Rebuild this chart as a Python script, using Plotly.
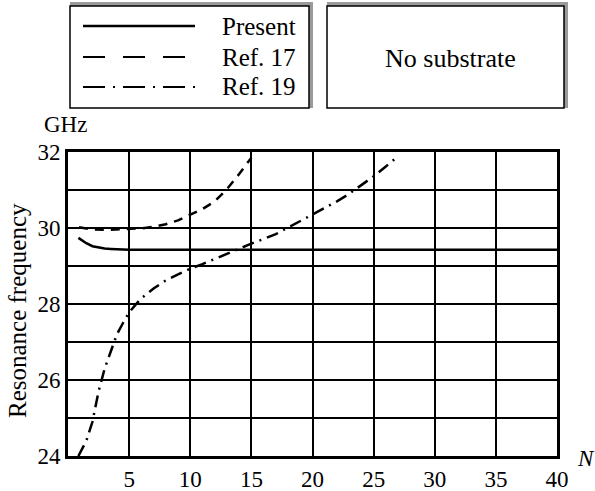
import plotly.graph_objects as go

# ---- data ----
present_n = [0.85, 1.5, 2.0, 2.5, 3.0, 3.5, 4.0, 5.0, 7.0, 10.0, 15.0, 20.0, 25.0, 30.0, 35.0, 40.0]
present_f = [29.74, 29.6, 29.52, 29.48, 29.46, 29.45, 29.44, 29.43, 29.43, 29.43, 29.43, 29.43, 29.43, 29.43, 29.43, 29.43]

ref17_n = [0.9, 2, 3, 4, 5, 6, 7, 8, 9, 10, 11, 12, 13, 14, 15]
ref17_f = [30.02, 29.96, 29.95, 29.96, 29.97, 29.99, 30.03, 30.1, 30.2, 30.36, 30.5, 30.7, 31.02, 31.42, 31.85]

ref19_n = [0.85, 1.5, 2, 2.5, 3, 3.5, 4, 4.5, 5, 5.5, 6, 7, 8, 9, 10, 11, 12, 13, 14, 15,
           16, 17, 18, 19, 20, 21, 22, 23, 24, 25, 26, 26.9]
ref19_f = [24.0, 24.4, 24.9, 25.7, 26.3, 26.75, 27.2, 27.5, 27.78, 27.97, 28.15, 28.41, 28.62,
           28.78, 28.93, 29.05, 29.19, 29.33, 29.46, 29.59, 29.71, 29.84, 30.01, 30.18, 30.36,
           30.52, 30.7, 30.9, 31.13, 31.36, 31.62, 31.86]

x_ticks = [5, 10, 15, 20, 25, 30, 35, 40]
y_ticks = [24, 25, 26, 27, 28, 29, 30, 31, 32]
y_ticktext = ["24", "", "26", "", "28", "", "30", "", "32"]

series_names = ["Present", "Ref. 17", "Ref. 19"]

# ---- geometry helpers (pixels -> paper) ----
W, H = 595, 491
L, R, T, B = 68, 38, 152, 35
PW, PH = W - L - R, H - T - B


def px(x):
    return (x - L) / PW


def py(y):
    return (H - B - y) / PH


FONT = "Liberation Serif"
SOLID = "solid"
DASH = "9px,7px"
DASHDOT = "12px,6px,2px,6px"

fig = go.Figure()
fig.add_trace(go.Scatter(x=present_n, y=present_f, mode="lines", name=series_names[0],
                         line=dict(color="black", width=2.5, dash=SOLID)))
fig.add_trace(go.Scatter(x=ref17_n, y=ref17_f, mode="lines", name=series_names[1],
                         line=dict(color="black", width=2.5, dash=DASH)))
fig.add_trace(go.Scatter(x=ref19_n, y=ref19_f, mode="lines", name=series_names[2],
                         line=dict(color="black", width=2.5, dash=DASHDOT)))

shapes = []
annotations = []

# boxes with shaded top/right edge
for (x0, x1) in [(70, 309), (327, 564)]:
    y0, y1 = 6, 108
    shapes.append(dict(type="rect", xref="paper", yref="paper",
                       x0=px(x0), x1=px(x1 + 4), y0=py(y1), y1=py(y0 - 4),
                       fillcolor="#9a9a9a", line=dict(width=0), layer="above"))
    shapes.append(dict(type="rect", xref="paper", yref="paper",
                       x0=px(x0), x1=px(x1), y0=py(y1), y1=py(y0),
                       fillcolor="white", line=dict(color="black", width=1.5), layer="above"))

# legend samples
leg_y = [26, 57, 87]
leg_dash = [SOLID, "22px,18px", "22px,8px,2px,8px"]
for i, name in enumerate(series_names):
    shapes.append(dict(type="line", xref="paper", yref="paper",
                       x0=px(83), x1=px(195), y0=py(leg_y[i]), y1=py(leg_y[i]),
                       line=dict(color="black", width=2.5 if i == 0 else 2, dash=leg_dash[i]),
                       layer="above"))
    annotations.append(dict(text=name, xref="paper", yref="paper", x=px(298), y=py(leg_y[i]),
                            xanchor="right", yanchor="middle", showarrow=False,
                            font=dict(family=FONT, size=25, color="black")))

annotations.append(dict(text="No substrate", xref="paper", yref="paper", x=px(450), y=py(58),
                        xanchor="center", yanchor="middle", showarrow=False,
                        font=dict(family=FONT, size=26, color="black")))
annotations.append(dict(text="GHz", xref="paper", yref="paper", x=px(65), y=py(125),
                        xanchor="center", yanchor="middle", showarrow=False,
                        font=dict(family=FONT, size=23, color="black")))
annotations.append(dict(text="<i>N</i>", xref="paper", yref="paper", x=px(586), y=py(458),
                        xanchor="center", yanchor="middle", showarrow=False,
                        font=dict(family=FONT, size=23, color="black")))
annotations.append(dict(text="Resonance frequency", xref="paper", yref="paper", x=px(17), y=py(311),
                        xanchor="center", yanchor="middle", showarrow=False, textangle=-90,
                        font=dict(family=FONT, size=25, color="black")))

fig.update_layout(
    width=W, height=H,
    margin=dict(l=L, r=R, t=T, b=B, pad=0, autoexpand=False),
    paper_bgcolor="white", plot_bgcolor="white",
    showlegend=False,
    shapes=shapes, annotations=annotations,
    font=dict(family=FONT, color="black"),
)
fig.update_xaxes(range=[0, 40], tickvals=x_ticks, ticks="", showgrid=True, gridcolor="black",
                 gridwidth=2, showline=True, linecolor="black", linewidth=3, mirror=True,
                 zeroline=False, automargin=False,
                 tickfont=dict(family=FONT, size=23, color="black"))
fig.update_yaxes(range=[24, 32], tickvals=y_ticks, ticktext=y_ticktext, ticks="", showgrid=True,
                 gridcolor="black", gridwidth=2, showline=True, linecolor="black", linewidth=3,
                 mirror=True, zeroline=False, automargin=False,
                 tickfont=dict(family=FONT, size=23, color="black"))

fig.write_html("out.html", config={"displayModeBar": False},
               post_script="document.body.style.margin='0';document.body.style.overflow='hidden';")
